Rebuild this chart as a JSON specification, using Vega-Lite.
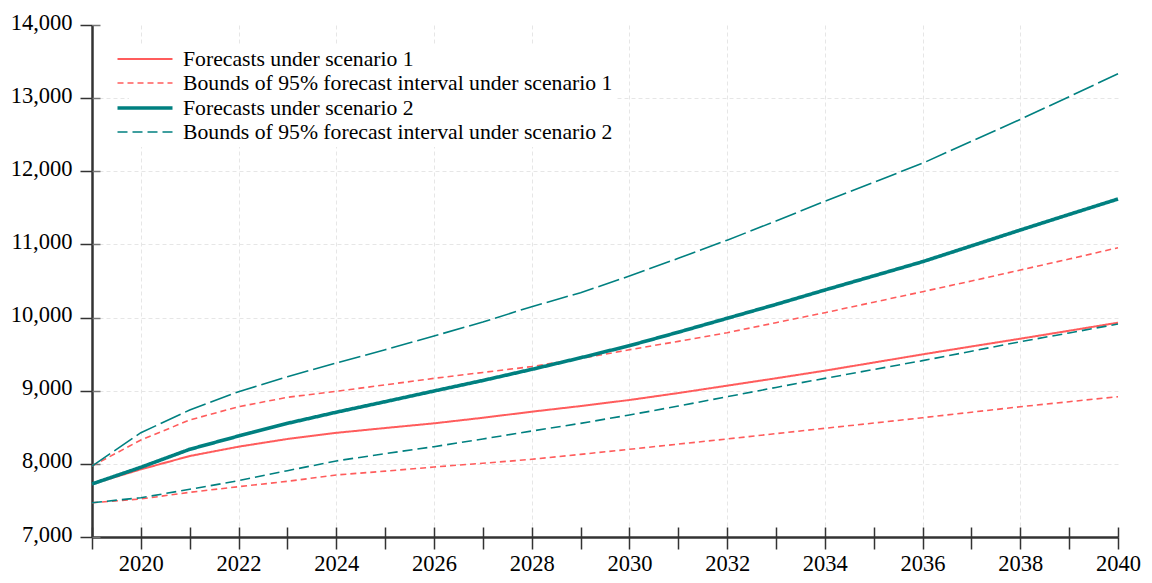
{
  "$schema": "https://vega.github.io/schema/vega-lite/v6.json",
  "width": 1026,
  "height": 512,
  "autosize": {"type": "none"},
  "padding": {"left": 92, "top": 25, "right": 34, "bottom": 46},
  "background": "white",
  "config": {
    "view": {"stroke": null},
    "font": "Liberation Serif, Times New Roman, serif",
    "axis": {
      "labelFont": "Liberation Serif, Times New Roman, serif",
      "labelFontSize": 22.5,
      "labelColor": "#000000",
      "tickColor": "#333333",
      "tickWidth": 1.5,
      "domainColor": "#333333",
      "domainWidth": 2.5,
      "gridColor": "#e6e6e6",
      "gridDash": [4, 3],
      "gridWidth": 1,
      "title": null,
      "labelOverlap": false,
      "labelFlush": false
    }
  },
  "data": {
    "values": [
      {"year": 2019, "series": "Forecasts under scenario 1", "bound": "mid", "value": 7725},
      {"year": 2020, "series": "Forecasts under scenario 1", "bound": "mid", "value": 7925},
      {"year": 2021, "series": "Forecasts under scenario 1", "bound": "mid", "value": 8107},
      {"year": 2022, "series": "Forecasts under scenario 1", "bound": "mid", "value": 8235},
      {"year": 2023, "series": "Forecasts under scenario 1", "bound": "mid", "value": 8340},
      {"year": 2024, "series": "Forecasts under scenario 1", "bound": "mid", "value": 8424},
      {"year": 2025, "series": "Forecasts under scenario 1", "bound": "mid", "value": 8490},
      {"year": 2026, "series": "Forecasts under scenario 1", "bound": "mid", "value": 8554},
      {"year": 2027, "series": "Forecasts under scenario 1", "bound": "mid", "value": 8630},
      {"year": 2028, "series": "Forecasts under scenario 1", "bound": "mid", "value": 8713},
      {"year": 2029, "series": "Forecasts under scenario 1", "bound": "mid", "value": 8790},
      {"year": 2030, "series": "Forecasts under scenario 1", "bound": "mid", "value": 8873},
      {"year": 2031, "series": "Forecasts under scenario 1", "bound": "mid", "value": 8968},
      {"year": 2032, "series": "Forecasts under scenario 1", "bound": "mid", "value": 9069},
      {"year": 2033, "series": "Forecasts under scenario 1", "bound": "mid", "value": 9170},
      {"year": 2034, "series": "Forecasts under scenario 1", "bound": "mid", "value": 9274},
      {"year": 2035, "series": "Forecasts under scenario 1", "bound": "mid", "value": 9385},
      {"year": 2036, "series": "Forecasts under scenario 1", "bound": "mid", "value": 9497},
      {"year": 2037, "series": "Forecasts under scenario 1", "bound": "mid", "value": 9605},
      {"year": 2038, "series": "Forecasts under scenario 1", "bound": "mid", "value": 9711},
      {"year": 2039, "series": "Forecasts under scenario 1", "bound": "mid", "value": 9820},
      {"year": 2040, "series": "Forecasts under scenario 1", "bound": "mid", "value": 9930},

      {"year": 2019, "series": "Bounds of 95% forecast interval under scenario 1", "bound": "upper", "value": 7970},
      {"year": 2020, "series": "Bounds of 95% forecast interval under scenario 1", "bound": "upper", "value": 8326},
      {"year": 2021, "series": "Bounds of 95% forecast interval under scenario 1", "bound": "upper", "value": 8600},
      {"year": 2022, "series": "Bounds of 95% forecast interval under scenario 1", "bound": "upper", "value": 8781},
      {"year": 2023, "series": "Bounds of 95% forecast interval under scenario 1", "bound": "upper", "value": 8910},
      {"year": 2024, "series": "Bounds of 95% forecast interval under scenario 1", "bound": "upper", "value": 8992},
      {"year": 2025, "series": "Bounds of 95% forecast interval under scenario 1", "bound": "upper", "value": 9080},
      {"year": 2026, "series": "Bounds of 95% forecast interval under scenario 1", "bound": "upper", "value": 9169},
      {"year": 2027, "series": "Bounds of 95% forecast interval under scenario 1", "bound": "upper", "value": 9250},
      {"year": 2028, "series": "Bounds of 95% forecast interval under scenario 1", "bound": "upper", "value": 9330},
      {"year": 2029, "series": "Bounds of 95% forecast interval under scenario 1", "bound": "upper", "value": 9440},
      {"year": 2030, "series": "Bounds of 95% forecast interval under scenario 1", "bound": "upper", "value": 9560},
      {"year": 2031, "series": "Bounds of 95% forecast interval under scenario 1", "bound": "upper", "value": 9675},
      {"year": 2032, "series": "Bounds of 95% forecast interval under scenario 1", "bound": "upper", "value": 9793},
      {"year": 2033, "series": "Bounds of 95% forecast interval under scenario 1", "bound": "upper", "value": 9930},
      {"year": 2034, "series": "Bounds of 95% forecast interval under scenario 1", "bound": "upper", "value": 10067},
      {"year": 2035, "series": "Bounds of 95% forecast interval under scenario 1", "bound": "upper", "value": 10210},
      {"year": 2036, "series": "Bounds of 95% forecast interval under scenario 1", "bound": "upper", "value": 10354},
      {"year": 2037, "series": "Bounds of 95% forecast interval under scenario 1", "bound": "upper", "value": 10500},
      {"year": 2038, "series": "Bounds of 95% forecast interval under scenario 1", "bound": "upper", "value": 10650},
      {"year": 2039, "series": "Bounds of 95% forecast interval under scenario 1", "bound": "upper", "value": 10800},
      {"year": 2040, "series": "Bounds of 95% forecast interval under scenario 1", "bound": "upper", "value": 10955},

      {"year": 2019, "series": "Bounds of 95% forecast interval under scenario 1", "bound": "lower", "value": 7469},
      {"year": 2020, "series": "Bounds of 95% forecast interval under scenario 1", "bound": "lower", "value": 7520},
      {"year": 2021, "series": "Bounds of 95% forecast interval under scenario 1", "bound": "lower", "value": 7611},
      {"year": 2022, "series": "Bounds of 95% forecast interval under scenario 1", "bound": "lower", "value": 7688},
      {"year": 2023, "series": "Bounds of 95% forecast interval under scenario 1", "bound": "lower", "value": 7761},
      {"year": 2024, "series": "Bounds of 95% forecast interval under scenario 1", "bound": "lower", "value": 7848},
      {"year": 2025, "series": "Bounds of 95% forecast interval under scenario 1", "bound": "lower", "value": 7900},
      {"year": 2026, "series": "Bounds of 95% forecast interval under scenario 1", "bound": "lower", "value": 7957},
      {"year": 2027, "series": "Bounds of 95% forecast interval under scenario 1", "bound": "lower", "value": 8008},
      {"year": 2028, "series": "Bounds of 95% forecast interval under scenario 1", "bound": "lower", "value": 8062},
      {"year": 2029, "series": "Bounds of 95% forecast interval under scenario 1", "bound": "lower", "value": 8130},
      {"year": 2030, "series": "Bounds of 95% forecast interval under scenario 1", "bound": "lower", "value": 8199},
      {"year": 2031, "series": "Bounds of 95% forecast interval under scenario 1", "bound": "lower", "value": 8270},
      {"year": 2032, "series": "Bounds of 95% forecast interval under scenario 1", "bound": "lower", "value": 8340},
      {"year": 2033, "series": "Bounds of 95% forecast interval under scenario 1", "bound": "lower", "value": 8413},
      {"year": 2034, "series": "Bounds of 95% forecast interval under scenario 1", "bound": "lower", "value": 8486},
      {"year": 2035, "series": "Bounds of 95% forecast interval under scenario 1", "bound": "lower", "value": 8558},
      {"year": 2036, "series": "Bounds of 95% forecast interval under scenario 1", "bound": "lower", "value": 8631},
      {"year": 2037, "series": "Bounds of 95% forecast interval under scenario 1", "bound": "lower", "value": 8706},
      {"year": 2038, "series": "Bounds of 95% forecast interval under scenario 1", "bound": "lower", "value": 8781},
      {"year": 2039, "series": "Bounds of 95% forecast interval under scenario 1", "bound": "lower", "value": 8850},
      {"year": 2040, "series": "Bounds of 95% forecast interval under scenario 1", "bound": "lower", "value": 8918},

      {"year": 2019, "series": "Forecasts under scenario 2", "bound": "mid", "value": 7725},
      {"year": 2020, "series": "Forecasts under scenario 2", "bound": "mid", "value": 7953},
      {"year": 2021, "series": "Forecasts under scenario 2", "bound": "mid", "value": 8199},
      {"year": 2022, "series": "Forecasts under scenario 2", "bound": "mid", "value": 8381},
      {"year": 2023, "series": "Forecasts under scenario 2", "bound": "mid", "value": 8554},
      {"year": 2024, "series": "Forecasts under scenario 2", "bound": "mid", "value": 8706},
      {"year": 2025, "series": "Forecasts under scenario 2", "bound": "mid", "value": 8850},
      {"year": 2026, "series": "Forecasts under scenario 2", "bound": "mid", "value": 8996},
      {"year": 2027, "series": "Forecasts under scenario 2", "bound": "mid", "value": 9140},
      {"year": 2028, "series": "Forecasts under scenario 2", "bound": "mid", "value": 9292},
      {"year": 2029, "series": "Forecasts under scenario 2", "bound": "mid", "value": 9450},
      {"year": 2030, "series": "Forecasts under scenario 2", "bound": "mid", "value": 9616},
      {"year": 2031, "series": "Forecasts under scenario 2", "bound": "mid", "value": 9800},
      {"year": 2032, "series": "Forecasts under scenario 2", "bound": "mid", "value": 9990},
      {"year": 2033, "series": "Forecasts under scenario 2", "bound": "mid", "value": 10180},
      {"year": 2034, "series": "Forecasts under scenario 2", "bound": "mid", "value": 10377},
      {"year": 2035, "series": "Forecasts under scenario 2", "bound": "mid", "value": 10570},
      {"year": 2036, "series": "Forecasts under scenario 2", "bound": "mid", "value": 10764},
      {"year": 2037, "series": "Forecasts under scenario 2", "bound": "mid", "value": 10980},
      {"year": 2038, "series": "Forecasts under scenario 2", "bound": "mid", "value": 11197},
      {"year": 2039, "series": "Forecasts under scenario 2", "bound": "mid", "value": 11410},
      {"year": 2040, "series": "Forecasts under scenario 2", "bound": "mid", "value": 11621},

      {"year": 2019, "series": "Bounds of 95% forecast interval under scenario 2", "bound": "lower", "value": 7469},
      {"year": 2020, "series": "Bounds of 95% forecast interval under scenario 2", "bound": "lower", "value": 7537},
      {"year": 2021, "series": "Bounds of 95% forecast interval under scenario 2", "bound": "lower", "value": 7652},
      {"year": 2022, "series": "Bounds of 95% forecast interval under scenario 2", "bound": "lower", "value": 7770},
      {"year": 2023, "series": "Bounds of 95% forecast interval under scenario 2", "bound": "lower", "value": 7907},
      {"year": 2024, "series": "Bounds of 95% forecast interval under scenario 2", "bound": "lower", "value": 8040},
      {"year": 2025, "series": "Bounds of 95% forecast interval under scenario 2", "bound": "lower", "value": 8140},
      {"year": 2026, "series": "Bounds of 95% forecast interval under scenario 2", "bound": "lower", "value": 8235},
      {"year": 2027, "series": "Bounds of 95% forecast interval under scenario 2", "bound": "lower", "value": 8340},
      {"year": 2028, "series": "Bounds of 95% forecast interval under scenario 2", "bound": "lower", "value": 8449},
      {"year": 2029, "series": "Bounds of 95% forecast interval under scenario 2", "bound": "lower", "value": 8554},
      {"year": 2030, "series": "Bounds of 95% forecast interval under scenario 2", "bound": "lower", "value": 8668},
      {"year": 2031, "series": "Bounds of 95% forecast interval under scenario 2", "bound": "lower", "value": 8790},
      {"year": 2032, "series": "Bounds of 95% forecast interval under scenario 2", "bound": "lower", "value": 8918},
      {"year": 2033, "series": "Bounds of 95% forecast interval under scenario 2", "bound": "lower", "value": 9045},
      {"year": 2034, "series": "Bounds of 95% forecast interval under scenario 2", "bound": "lower", "value": 9169},
      {"year": 2035, "series": "Bounds of 95% forecast interval under scenario 2", "bound": "lower", "value": 9290},
      {"year": 2036, "series": "Bounds of 95% forecast interval under scenario 2", "bound": "lower", "value": 9411},
      {"year": 2037, "series": "Bounds of 95% forecast interval under scenario 2", "bound": "lower", "value": 9540},
      {"year": 2038, "series": "Bounds of 95% forecast interval under scenario 2", "bound": "lower", "value": 9670},
      {"year": 2039, "series": "Bounds of 95% forecast interval under scenario 2", "bound": "lower", "value": 9790},
      {"year": 2040, "series": "Bounds of 95% forecast interval under scenario 2", "bound": "lower", "value": 9912},

      {"year": 2019, "series": "Bounds of 95% forecast interval under scenario 2", "bound": "upper", "value": 7970},
      {"year": 2020, "series": "Bounds of 95% forecast interval under scenario 2", "bound": "upper", "value": 8426},
      {"year": 2021, "series": "Bounds of 95% forecast interval under scenario 2", "bound": "upper", "value": 8736},
      {"year": 2022, "series": "Bounds of 95% forecast interval under scenario 2", "bound": "upper", "value": 8987},
      {"year": 2023, "series": "Bounds of 95% forecast interval under scenario 2", "bound": "upper", "value": 9192},
      {"year": 2024, "series": "Bounds of 95% forecast interval under scenario 2", "bound": "upper", "value": 9379},
      {"year": 2025, "series": "Bounds of 95% forecast interval under scenario 2", "bound": "upper", "value": 9560},
      {"year": 2026, "series": "Bounds of 95% forecast interval under scenario 2", "bound": "upper", "value": 9748},
      {"year": 2027, "series": "Bounds of 95% forecast interval under scenario 2", "bound": "upper", "value": 9940},
      {"year": 2028, "series": "Bounds of 95% forecast interval under scenario 2", "bound": "upper", "value": 10149},
      {"year": 2029, "series": "Bounds of 95% forecast interval under scenario 2", "bound": "upper", "value": 10340},
      {"year": 2030, "series": "Bounds of 95% forecast interval under scenario 2", "bound": "upper", "value": 10568},
      {"year": 2031, "series": "Bounds of 95% forecast interval under scenario 2", "bound": "upper", "value": 10810},
      {"year": 2032, "series": "Bounds of 95% forecast interval under scenario 2", "bound": "upper", "value": 11058},
      {"year": 2033, "series": "Bounds of 95% forecast interval under scenario 2", "bound": "upper", "value": 11320},
      {"year": 2034, "series": "Bounds of 95% forecast interval under scenario 2", "bound": "upper", "value": 11590},
      {"year": 2035, "series": "Bounds of 95% forecast interval under scenario 2", "bound": "upper", "value": 11850},
      {"year": 2036, "series": "Bounds of 95% forecast interval under scenario 2", "bound": "upper", "value": 12110},
      {"year": 2037, "series": "Bounds of 95% forecast interval under scenario 2", "bound": "upper", "value": 12410},
      {"year": 2038, "series": "Bounds of 95% forecast interval under scenario 2", "bound": "upper", "value": 12710},
      {"year": 2039, "series": "Bounds of 95% forecast interval under scenario 2", "bound": "upper", "value": 13020},
      {"year": 2040, "series": "Bounds of 95% forecast interval under scenario 2", "bound": "upper", "value": 13333}
    ]
  },
  "layer": [
    {
      "transform": [
        {"filter": "!(datum.bound == 'upper' && datum.series == 'Bounds of 95% forecast interval under scenario 2')"}
      ],
      "mark": {"type": "line", "strokeCap": "butt", "strokeJoin": "round"},
      "encoding": {
        "x": {
          "field": "year",
          "type": "quantitative",
          "scale": {"domain": [2019, 2040], "nice": false, "zero": false},
          "axis": {
            "values": [2019, 2020, 2021, 2022, 2023, 2024, 2025, 2026, 2027, 2028, 2029, 2030, 2031, 2032, 2033, 2034, 2035, 2036, 2037, 2038, 2039, 2040],
            "format": "d",
            "labelExpr": "datum.value % 2 == 0 ? datum.label : ''",
            "tickSize": 12,
            "labelPadding": 3,
            "grid": true,
            "gridColor": {"condition": {"test": "datum.value % 2 == 1 || datum.value == 2040", "value": "transparent"}, "value": "#e6e6e6"}
          }
        },
        "y": {
          "field": "value",
          "type": "quantitative",
          "scale": {"domain": [7000, 14000], "nice": false, "zero": false},
          "axis": {
            "values": [7000, 8000, 9000, 10000, 11000, 12000, 13000, 14000],
            "format": ",.0f",
            "tickSize": 12,
            "labelPadding": 8,
            "labelOffset": -3,
            "grid": true,
            "gridColor": {"condition": {"test": "datum.value == 14000 || datum.value == 7000", "value": "transparent"}, "value": "#e6e6e6"}
          }
        },
        "color": {
          "field": "series",
          "type": "nominal",
          "scale": {
            "domain": ["Forecasts under scenario 1", "Bounds of 95% forecast interval under scenario 1", "Forecasts under scenario 2", "Bounds of 95% forecast interval under scenario 2"],
            "range": ["#ff5c5c", "#ff5c5c", "#008080", "#008080"]
          },
          "legend": {
            "title": null,
            "orient": "none",
            "legendX": 37,
            "legendY": 19,
            "padding": 3,
            "fillColor": "white",
            "symbolType": "M-2.5,0H2.5",
            "symbolSize": 484,
            "labelFont": "Liberation Serif, Times New Roman, serif",
            "labelFontSize": 21.7,
            "labelColor": "#000000",
            "labelLimit": 1000,
            "labelOffset": 25,
            "rowPadding": 0
          }
        },
        "strokeDash": {
          "field": "series",
          "type": "nominal",
          "scale": {
            "domain": ["Forecasts under scenario 1", "Bounds of 95% forecast interval under scenario 1", "Forecasts under scenario 2", "Bounds of 95% forecast interval under scenario 2"],
            "range": [[1, 0], [6, 4], [1, 0], [10, 5]]
          }
        },
        "strokeWidth": {
          "field": "series",
          "type": "nominal",
          "scale": {
            "type": "ordinal",
            "domain": ["Forecasts under scenario 1", "Bounds of 95% forecast interval under scenario 1", "Forecasts under scenario 2", "Bounds of 95% forecast interval under scenario 2"],
            "range": [2, 1.6, 3.6, 1.6]
          }
        },
        "detail": {"field": "bound", "type": "nominal"}
      }
    },
    {
      "transform": [
        {"filter": "datum.bound == 'upper' && datum.series == 'Bounds of 95% forecast interval under scenario 2'"}
      ],
      "mark": {"type": "line", "color": "#008080", "strokeWidth": 1.6, "strokeDash": [22, 5], "strokeCap": "butt"},
      "encoding": {
        "x": {
          "field": "year",
          "type": "quantitative",
          "axis": {
            "orient": "bottom",
            "offset": -10,
            "tickSize": 10,
            "domain": false,
            "labels": false,
            "grid": false,
            "values": [2019, 2020, 2021, 2022, 2023, 2024, 2025, 2026, 2027, 2028, 2029, 2030, 2031, 2032, 2033, 2034, 2035, 2036, 2037, 2038, 2039, 2040]
          }
        },
        "y": {
          "field": "value",
          "type": "quantitative",
          "axis": {
            "orient": "left",
            "offset": -8,
            "tickSize": 8,
            "tickColor": "#777777",
            "domain": false,
            "labels": false,
            "grid": false,
            "values": [7000, 8000, 9000, 10000, 11000, 12000, 13000, 14000]
          }
        }
      }
    }
  ],
  "resolve": {"axis": {"x": "independent", "y": "independent"}}
}
